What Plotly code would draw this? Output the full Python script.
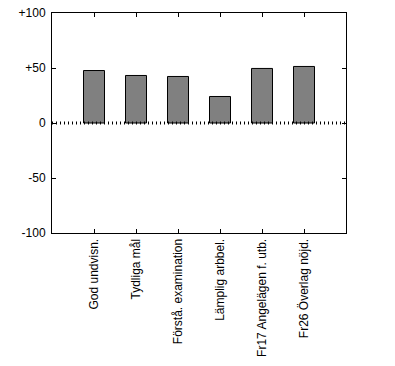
import plotly.graph_objects as go

categories = ["God undvisn.", "Tydliga mål", "Förstå. examination", "Lämplig arbbel.",
              "Fr17 Angelägen f. utb.", "Fr26 Överlag nöjd."]
values = [47.7, 43.2, 42.3, 24.1, 49.6, 51.4]
y_tickvals = [-100, -50, 0, 50, 100]
y_ticktext = ["-100", "-50", "0", "+50", "+100"]

font = dict(family="Liberation Sans, Arial, sans-serif", size=12, color="black")

fig = go.Figure(go.Bar(
    x=categories, y=values, width=0.5,
    marker=dict(color="#808080", line=dict(color="black", width=1)),
    hoverinfo="skip",
))

fig.add_shape(type="line", xref="paper", yref="y", x0=0, x1=1, y0=0, y1=0,
              line=dict(color="black", width=3, dash="1px,3px"), layer="above")

fig.update_layout(
    width=395, height=366,
    margin=dict(l=52, r=49, t=13, b=133),
    paper_bgcolor="white", plot_bgcolor="white",
    font=font, showlegend=False, bargap=0.5,
    xaxis=dict(type="category", range=[-1, 6], showline=True, linecolor="black", linewidth=1,
               mirror="allticks", ticks="inside", ticklen=4, tickcolor="black",
               tickangle=-90, showgrid=False, tickfont=font, automargin=False,
               ticklabelstandoff=0),
    yaxis=dict(range=[-100, 100], tickvals=y_tickvals, ticktext=y_ticktext,
               showline=True, linecolor="black", linewidth=1, mirror="allticks",
               ticks="inside", ticklen=4, tickcolor="black", showgrid=False,
               zeroline=False, tickfont=font, automargin=False,
               ticklabelstandoff=3),
)

fig.write_html("out.html", config={"displayModeBar": False},
               post_script="document.body.style.margin='0';document.body.style.overflow='hidden';")
